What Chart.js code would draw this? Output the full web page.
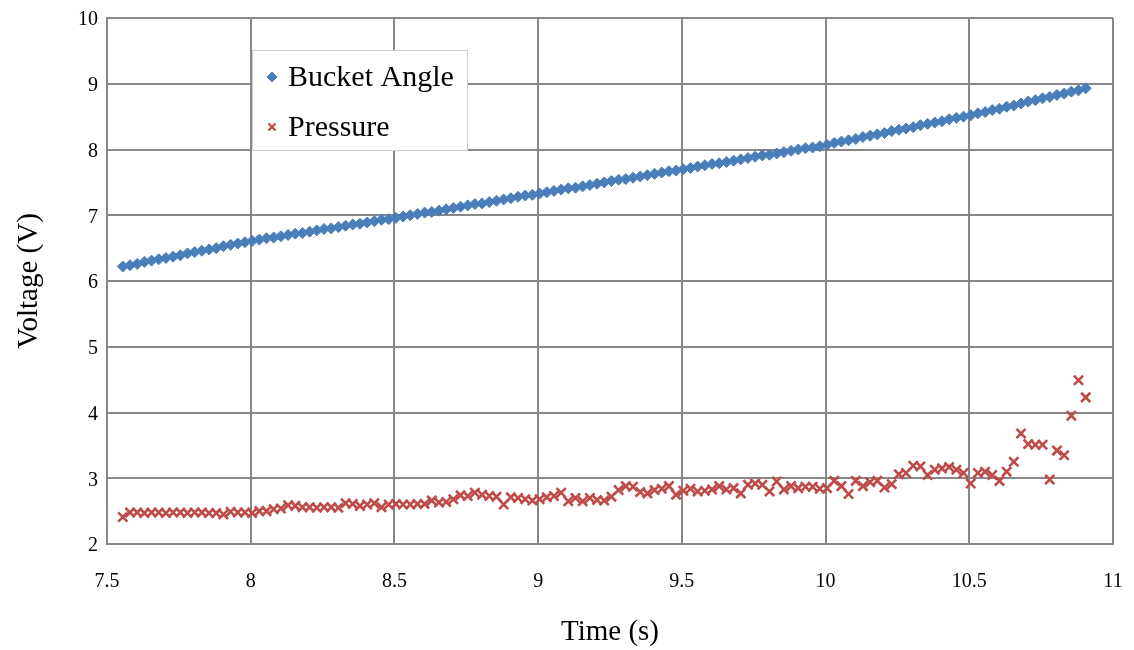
<!DOCTYPE html>
<html>
<head>
<meta charset="utf-8">
<script src="https://cdn.jsdelivr.net/npm/chart.js@4/dist/chart.umd.min.js"></script>
<style>
  html, body { margin: 0; padding: 0; background: #fff; }
  #wrap { width: 1134px; height: 650px; }
</style>
</head>
<body>
<div id="wrap"><canvas id="c" width="1134" height="650"></canvas></div>
<script>
// Sample times (s)
const timeS = [
  7.555, 7.58, 7.605, 7.63, 7.655, 7.68, 7.705, 7.73, 7.755, 7.78,
  7.805, 7.83, 7.855, 7.88, 7.905, 7.93, 7.955, 7.98, 8.005, 8.03,
  8.055, 8.08, 8.105, 8.13, 8.155, 8.18, 8.205, 8.23, 8.255, 8.28,
  8.305, 8.33, 8.355, 8.38, 8.405, 8.43, 8.455, 8.48, 8.505, 8.53,
  8.555, 8.58, 8.605, 8.63, 8.655, 8.68, 8.705, 8.73, 8.755, 8.78,
  8.805, 8.83, 8.855, 8.88, 8.905, 8.93, 8.955, 8.98, 9.005, 9.03,
  9.055, 9.08, 9.105, 9.13, 9.155, 9.18, 9.205, 9.23, 9.255, 9.28,
  9.305, 9.33, 9.355, 9.38, 9.405, 9.43, 9.455, 9.48, 9.505, 9.53,
  9.555, 9.58, 9.605, 9.63, 9.655, 9.68, 9.705, 9.73, 9.755, 9.78,
  9.805, 9.83, 9.855, 9.88, 9.905, 9.93, 9.955, 9.98, 10.005, 10.03,
  10.055, 10.08, 10.105, 10.13, 10.155, 10.18, 10.205, 10.23, 10.255, 10.28,
  10.305, 10.33, 10.355, 10.38, 10.405, 10.43, 10.455, 10.48, 10.505, 10.53,
  10.555, 10.58, 10.605, 10.63, 10.655, 10.68, 10.705, 10.73, 10.755, 10.78,
  10.805, 10.83, 10.855, 10.88, 10.905
];

// Bucket angle sensor output (V)
const bucketAngle = [
  6.22, 6.24, 6.26, 6.29, 6.31, 6.33, 6.35, 6.37, 6.39, 6.42,
  6.44, 6.46, 6.48, 6.50, 6.53, 6.55, 6.57, 6.59, 6.61, 6.63,
  6.65, 6.66, 6.68, 6.70, 6.72, 6.73, 6.75, 6.77, 6.79, 6.80,
  6.82, 6.84, 6.86, 6.87, 6.89, 6.91, 6.93, 6.94, 6.96, 6.98,
  7.00, 7.02, 7.04, 7.05, 7.07, 7.09, 7.11, 7.13, 7.15, 7.17,
  7.18, 7.20, 7.22, 7.24, 7.26, 7.28, 7.30, 7.31, 7.33, 7.35,
  7.37, 7.39, 7.41, 7.42, 7.44, 7.46, 7.48, 7.50, 7.52, 7.54,
  7.55, 7.57, 7.59, 7.61, 7.63, 7.65, 7.67, 7.68, 7.70, 7.72,
  7.74, 7.76, 7.78, 7.79, 7.81, 7.83, 7.85, 7.87, 7.89, 7.91,
  7.92, 7.94, 7.96, 7.98, 8.00, 8.02, 8.03, 8.05, 8.07, 8.10,
  8.12, 8.14, 8.16, 8.19, 8.21, 8.23, 8.25, 8.28, 8.30, 8.32,
  8.34, 8.37, 8.39, 8.41, 8.43, 8.46, 8.48, 8.50, 8.52, 8.55,
  8.57, 8.60, 8.62, 8.65, 8.67, 8.70, 8.73, 8.75, 8.78, 8.80,
  8.83, 8.85, 8.88, 8.90, 8.93
];

// Pressure sensor output (V)
const pressure = [
  2.41, 2.48, 2.48, 2.47, 2.48, 2.48, 2.47, 2.48, 2.48, 2.47,
  2.48, 2.48, 2.47, 2.47, 2.45, 2.49, 2.48, 2.48, 2.47, 2.50,
  2.50, 2.53, 2.54, 2.59, 2.58, 2.56, 2.56, 2.55, 2.56, 2.56,
  2.55, 2.62, 2.61, 2.58, 2.60, 2.62, 2.56, 2.60, 2.61, 2.60,
  2.60, 2.61, 2.61, 2.66, 2.63, 2.64, 2.68, 2.74, 2.73, 2.78,
  2.75, 2.73, 2.72, 2.60, 2.71, 2.70, 2.68, 2.66, 2.68, 2.71,
  2.73, 2.78, 2.65, 2.70, 2.65, 2.70, 2.67, 2.66, 2.72, 2.82,
  2.88, 2.87, 2.79, 2.77, 2.82, 2.84, 2.88, 2.75, 2.81, 2.84,
  2.80, 2.81, 2.83, 2.88, 2.83, 2.85, 2.77, 2.90, 2.92, 2.90,
  2.80, 2.95, 2.83, 2.88, 2.85, 2.87, 2.87, 2.84, 2.85, 2.96,
  2.88, 2.76, 2.96, 2.88, 2.94, 2.96, 2.86, 2.91, 3.06, 3.08,
  3.19, 3.18, 3.05, 3.13, 3.15, 3.17, 3.13, 3.08, 2.92, 3.08,
  3.10, 3.05, 2.96, 3.10, 3.25, 3.68, 3.52, 3.51, 3.51, 2.98,
  3.42, 3.35, 3.95, 4.49, 4.23
];

const seriesNames = ['Bucket Angle', 'Pressure'];
const xTicks = [7.5, 8, 8.5, 9, 9.5, 10, 10.5, 11];
const yTicks = [2, 3, 4, 5, 6, 7, 8, 9, 10];

const BLUE = '#4A7EBB';
const RED = '#BE4B48';
const GRID = '#888888';
const FONT = "'Liberation Serif', 'Times New Roman', serif";

const toPoints = (xs, ys) => xs.map((x, i) => ({ x, y: ys[i] }));

// Legend box drawn inside the plot, upper left
const boxLegend = {
  id: 'boxLegend',
  afterDatasetsDraw(chart) {
    const ctx = chart.ctx;
    const x0 = 252, y0 = 50, w = 215, h = 100;
    ctx.save();
    ctx.fillStyle = '#ffffff';
    ctx.fillRect(x0, y0, w, h);
    ctx.strokeStyle = '#d0d0d0';
    ctx.lineWidth = 1;
    ctx.strokeRect(x0 + 0.5, y0 + 0.5, w, h);
    ctx.font = '30px ' + FONT;
    ctx.textBaseline = 'middle';
    ctx.textAlign = 'left';
    chart.data.datasets.forEach((ds, i) => {
      const cy = y0 + 27 + i * 50;
      ctx.fillStyle = ds.backgroundColor;
      ctx.strokeStyle = ds.borderColor;
      ctx.lineWidth = ds.pointStyle === 'crossRot' ? 2.2 : 1;
      Chart.helpers.drawPoint(ctx, {
        pointStyle: ds.pointStyle,
        radius: 5,
        rotation: 0,
        borderWidth: 1
      }, x0 + 20, cy);
      ctx.fillStyle = '#000';
      ctx.fillText(ds.label, x0 + 36, cy + 1);
    });
    ctx.restore();
  }
};

new Chart(document.getElementById('c'), {
  type: 'scatter',
  data: {
    datasets: [
      {
        label: seriesNames[0],
        data: toPoints(timeS, bucketAngle),
        pointStyle: 'rectRot',
        pointRadius: 5.5,
        backgroundColor: BLUE,
        borderColor: BLUE,
        pointBorderWidth: 1,
        showLine: false
      },
      {
        label: seriesNames[1],
        data: toPoints(timeS, pressure),
        pointStyle: 'crossRot',
        pointRadius: 6.5,
        backgroundColor: RED,
        borderColor: RED,
        pointBorderWidth: 2.6,
        showLine: false
      }
    ]
  },
  options: {
    responsive: false,
    animation: false,
    devicePixelRatio: 1,
    layout: { padding: { left: 0, top: 18, right: 21, bottom: 0 } },
    plugins: {
      legend: { display: false },
      tooltip: { enabled: false }
    },
    scales: {
      x: {
        type: 'linear',
        min: 7.5,
        max: 11,
        afterBuildTicks: (s) => { s.ticks = xTicks.map(v => ({ value: v })); },
        afterFit: (s) => { s.height = 106; s.paddingLeft = 0; s.paddingRight = 0; },
        grid: { color: GRID, lineWidth: 2, drawTicks: false },
        border: { color: GRID, width: 2 },
        ticks: {
          padding: 26,
          color: '#000',
          font: { family: FONT, size: 20 },
          maxRotation: 0,
          callback: (v) => String(v)
        },
        title: {
          display: true,
          text: 'Time (s)',
          color: '#000',
          font: { family: FONT, size: 29 },
          padding: { top: 0, bottom: 0 }
        }
      },
      y: {
        type: 'linear',
        min: 2,
        max: 10,
        afterBuildTicks: (s) => { s.ticks = yTicks.map(v => ({ value: v })); },
        afterFit: (s) => { s.width = 107; s.paddingTop = 0; s.paddingBottom = 0; },
        grid: { color: GRID, lineWidth: 2, drawTicks: false },
        border: { color: GRID, width: 2 },
        ticks: {
          padding: 9,
          labelOffset: 2,
          color: '#000',
          font: { family: FONT, size: 20 },
          callback: (v) => String(v)
        },
        title: {
          display: true,
          text: 'Voltage (V)',
          color: '#000',
          font: { family: FONT, size: 29 },
          padding: { top: 12, bottom: 0 }
        }
      }
    }
  },
  plugins: [boxLegend]
});
</script>
</body>
</html>
